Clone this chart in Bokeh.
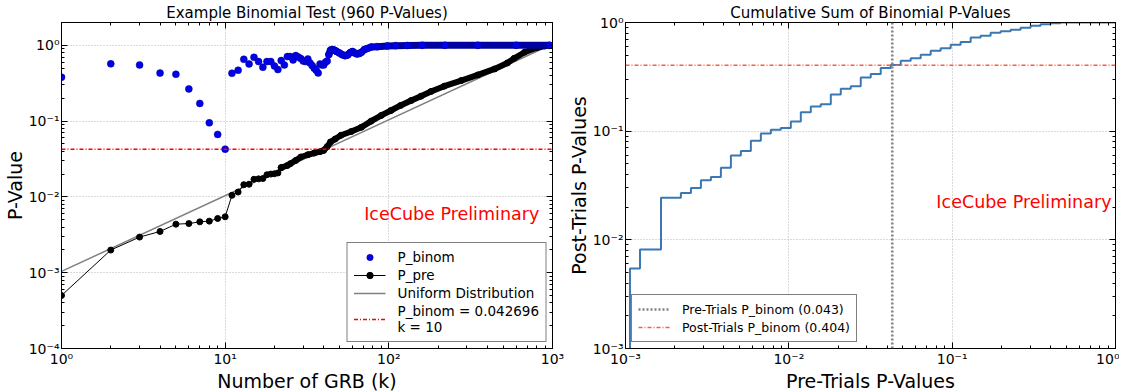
from bokeh.plotting import figure
from bokeh.models import (LogAxis, FixedTicker, CustomJSTickFormatter, Span, Label,
                          Legend, LegendItem, Range1d)
from bokeh.layouts import row
from bokeh.embed import file_html
from bokeh.resources import INLINE

FONT = "DejaVu Sans"

# ---------------- left panel data ----------------
k_binom_single = list(range(1, 43))
p_binom_single = [0.38, 0.57, 0.55, 0.43, 0.415, 0.266, 0.171, 0.095, 0.0668, 0.042696,
                  0.428, 0.469, 0.654, 0.568, 0.695, 0.61, 0.514, 0.61, 0.61, 0.534,
                  0.479, 0.629, 0.551, 0.71, 0.71, 0.641, 0.732, 0.70, 0.668, 0.62,
                  0.61, 0.66, 0.585, 0.54, 0.498, 0.469, 0.432, 0.568, 0.551, 0.551,
                  0.60, 0.62]
k_binom_dense = [43, 44, 45, 46, 47, 48, 50, 52, 54, 56, 58, 60, 62, 64, 66, 68, 71, 74,
                 78, 85, 98, 110, 130, 160, 220, 350, 600, 960]
p_binom_dense = [0.755, 0.86, 0.88, 0.87, 0.85, 0.83, 0.79, 0.75, 0.73, 0.745, 0.80, 0.83,
                 0.79, 0.77, 0.78, 0.81, 0.88, 0.91, 0.95, 0.96, 0.98, 0.99, 0.995, 1.0,
                 1.0, 1.0, 1.0, 1.0]

k_pre_single = list(range(1, 23))
p_pre_single = [5.0e-4, 1.99e-3, 2.95e-3, 3.5e-3, 4.37e-3, 4.45e-3, 4.69e-3, 4.79e-3,
                5.19e-3, 5.46e-3, 1.05e-2, 1.16e-2, 1.45e-2, 1.47e-2, 1.71e-2, 1.73e-2,
                1.75e-2, 1.96e-2, 2.0e-2, 2.02e-2, 2.07e-2, 2.43e-2]
k_pre_dense = [22, 24, 25, 27, 29, 32, 35, 38, 40, 42, 44, 47, 51, 59, 68, 78, 90, 103,
               118, 137, 157, 181, 218, 277, 350, 443, 530, 584, 675, 800, 900, 960]
p_pre_dense = [0.0243, 0.026, 0.0274, 0.0303, 0.0336, 0.036, 0.0379, 0.0395, 0.0411,
               0.046, 0.053, 0.058, 0.065, 0.073, 0.083, 0.10, 0.119, 0.138, 0.161, 0.187,
               0.213, 0.246, 0.289, 0.343, 0.407, 0.488, 0.585, 0.674, 0.81, 0.93, 0.98,
               1.0]

k_uniform = [1, 1000]
p_uniform = [0.00104, 1.042]

p_binom_min = 0.042696
k_at_min = 10

# ---------------- right panel data ----------------
pre_trials_x = [1.065e-3, 1.065e-3, 1.227e-3, 1.649e-3, 2.184e-3, 2.516e-3, 2.896e-3,
                3.334e-3, 3.838e-3, 4.418e-3, 5.086e-3, 5.855e-3, 6.741e-3, 7.760e-3,
                8.934e-3, 1.0285e-2, 1.184e-2, 1.363e-2, 1.569e-2, 1.807e-2, 2.080e-2,
                2.394e-2, 2.756e-2, 3.173e-2, 3.653e-2, 4.205e-2, 4.842e-2, 5.574e-2,
                6.417e-2, 7.388e-2, 8.505e-2, 9.790e-2, 0.1127, 0.1298, 0.1494, 0.1720,
                0.1980, 0.2279, 0.2624, 0.3021, 0.3477, 0.4003, 0.4609, 1.0]
post_trials_y = [5e-4, 5.45e-3, 8.15e-3, 2.44e-2, 2.70e-2, 3.00e-2, 3.53e-2, 3.79e-2,
                 4.61e-2, 5.98e-2, 6.56e-2, 8.15e-2, 9.52e-2, 0.103, 0.107, 0.123, 0.149,
                 0.169, 0.177, 0.218, 0.246, 0.259, 0.311, 0.336, 0.381, 0.406, 0.445,
                 0.470, 0.506, 0.550, 0.581, 0.624, 0.660, 0.728, 0.755, 0.805, 0.832,
                 0.857, 0.894, 0.933, 0.965, 0.985, 1.0, 1.0]
pre_trials_pbinom = 0.043
post_trials_pbinom = 0.404

# ---------------- ticks ----------------
left_x_ticks = [1, 10, 100, 1000]
left_y_ticks = [1e-4, 1e-3, 1e-2, 1e-1, 1]
right_x_ticks = [1e-3, 1e-2, 1e-1, 1]
right_y_ticks = [1e-3, 1e-2, 1e-1, 1]

SUP_CODE = """
const e = Math.round(Math.log10(tick));
const m = {"-":"\u207b","0":"\u2070","1":"\u00b9","2":"\u00b2","3":"\u00b3","4":"\u2074",
           "5":"\u2075","6":"\u2076","7":"\u2077","8":"\u2078","9":"\u2079"};
return "10" + String(e).split("").map(c => m[c]).join("");
"""


def minors(ticks):
    out = []
    for t in ticks[:-1]:
        out += [t * m for m in range(2, 10)]
    return out


def style_axis(ax, ticks, labels=True):
    ax.ticker = FixedTicker(ticks=ticks, minor_ticks=minors(ticks))
    ax.formatter = CustomJSTickFormatter(code=SUP_CODE if labels else "return ''")
    ax.major_tick_in = 6
    ax.major_tick_out = 0
    ax.minor_tick_in = 3
    ax.minor_tick_out = 0
    ax.major_tick_line_color = "black"
    ax.minor_tick_line_color = "black"
    ax.axis_line_color = "black"
    ax.major_label_text_font = FONT
    ax.major_label_text_font_size = "14px"
    ax.major_label_text_color = "black"
    ax.axis_label_text_font = FONT
    ax.axis_label_text_font_size = "19px"
    ax.axis_label_text_font_style = "normal"
    ax.axis_label_text_color = "black"
    ax.major_label_standoff = 2 if labels else 0
    ax.axis_label_standoff = 0


def make_fig(title, xr, yr, xlabel, ylabel, xt, yt, bl, br, fw):
    p = figure(x_axis_type="log", y_axis_type="log",
               x_range=Range1d(*xr), y_range=Range1d(*yr),
               frame_width=fw, frame_height=326,
               min_border_left=bl, min_border_right=br,
               min_border_top=2, min_border_bottom=2,
               output_backend="svg", toolbar_location=None, title=title)
    p.title.text_font = FONT
    p.title.text_font_size = "15px"
    p.title.text_font_style = "normal"
    p.title.text_color = "black"
    p.title.align = "center"
    p.title.standoff = 2
    p.outline_line_color = "black"
    p.outline_line_width = 1
    p.xaxis.axis_label = xlabel
    p.yaxis.axis_label = ylabel
    style_axis(p.xaxis[0], xt)
    style_axis(p.yaxis[0], yt)
    top = LogAxis()
    style_axis(top, xt, labels=False)
    p.add_layout(top, "above")
    rgt = LogAxis()
    style_axis(rgt, yt, labels=False)
    p.add_layout(rgt, "right")
    for g in (p.xgrid[0], p.ygrid[0]):
        g.grid_line_color = "#b5b5b5"
        g.grid_line_dash = "1 2"
        g.grid_line_width = 1
    p.xgrid[0].ticker = FixedTicker(ticks=xt)
    p.ygrid[0].ticker = FixedTicker(ticks=yt)
    return p


# ---------------- left figure ----------------
left = make_fig("Example Binomial Test (960 P-Values)", (1, 1000), (1e-4, 2.0),
                "Number of GRB (k)", "P-Value", left_x_ticks, left_y_ticks, 49, 12, 491)

red_span = Span(location=p_binom_min, dimension="width", line_color="#ff0000",
                line_width=1.5, line_dash="4 2 1 2")
left.add_layout(red_span)

uni = left.line(k_uniform, p_uniform, line_color="#808080", line_width=1.5)

pre_thin = left.line(k_pre_single + k_pre_dense, p_pre_single + p_pre_dense,
                     line_color="black", line_width=1)
left.line(k_pre_dense, p_pre_dense, line_color="black", line_width=6, line_cap="round",
          line_join="round")
left.scatter(k_pre_dense, p_pre_dense, size=6, fill_color="black", line_color="black")
pre_pts = left.scatter(k_pre_single, p_pre_single, size=6, fill_color="black",
                       line_color="black")

left.line(k_binom_dense, p_binom_dense, line_color="#0000a0", line_width=7,
          line_cap="round", line_join="round")
left.scatter(k_binom_dense, p_binom_dense, size=7, fill_color="#0000ee",
             line_color="#00008b", line_width=0.5)
binom_pts = left.scatter(k_binom_single, p_binom_single, size=7, fill_color="#0000ee",
                         line_color="#00008b", line_width=0.5)

red_key = left.line([k_at_min], [p_binom_min], line_color="#ff0000", line_width=1.5,
                    line_dash="4 2 1 2")

left.add_layout(Label(x=830, y=6.0e-3, text="IceCube Preliminary", text_color="#ff0000",
                      text_font=FONT, text_font_size="17.5px", text_align="right",
                      text_baseline="middle"))

leg_l = Legend(items=[
    LegendItem(label="P_binom", renderers=[binom_pts]),
    LegendItem(label="P_pre", renderers=[pre_thin, pre_pts]),
    LegendItem(label="Uniform Distribution", renderers=[uni]),
    LegendItem(label="P_binom = 0.042696\nk = 10", renderers=[red_key]),
], location="bottom_right")

# ---------------- right figure ----------------
right = make_fig("Cumulative Sum of Binomial P-Values", (1e-3, 1), (1e-3, 1),
                 "Pre-Trials P-Values", "Post-Trials P-Values", right_x_ticks,
                 right_y_ticks, 49, 4, 490)

right.step(pre_trials_x, post_trials_y, mode="after", line_color="#3b78b3", line_width=2)
right.add_layout(Span(location=pre_trials_pbinom, dimension="height", line_color="#808080",
                      line_width=2.5, line_dash="2 2"))
right.add_layout(Span(location=post_trials_pbinom, dimension="width", line_color="#ff5a40",
                      line_width=1.5, line_dash="4 2 1 2"))
gray_key = right.line([pre_trials_pbinom], [post_trials_pbinom], line_color="#808080",
                      line_width=2.5, line_dash="2 2")
red_key2 = right.line([pre_trials_pbinom], [post_trials_pbinom], line_color="#ff5a40",
                      line_width=1.5, line_dash="4 2 1 2")
right.add_layout(Label(x=0.945, y=0.0224, text="IceCube Preliminary", text_color="#ff0000",
                       text_font=FONT, text_font_size="17.5px", text_align="right",
                       text_baseline="middle"))

leg_r = Legend(items=[
    LegendItem(label="Pre-Trials P_binom (0.043)", renderers=[gray_key]),
    LegendItem(label="Post-Trials P_binom (0.404)", renderers=[red_key2]),
], location="bottom_left")

for lg, fig, fs in ((leg_l, left, "13.5px"), (leg_r, right, "12.5px")):
    lg.border_line_color = "black"
    lg.border_line_width = 1
    lg.background_fill_color = "white"
    lg.background_fill_alpha = 1
    lg.label_text_font = FONT
    lg.label_text_font_size = fs
    lg.label_text_color = "black"
    lg.glyph_width = 32
    lg.glyph_height = 16
    lg.label_standoff = 12
    lg.spacing = 2
    lg.padding = 6
    lg.margin = 6
    fig.add_layout(lg)

layout = row(left, right)
open("out.html", "w").write(file_html(layout, INLINE))
